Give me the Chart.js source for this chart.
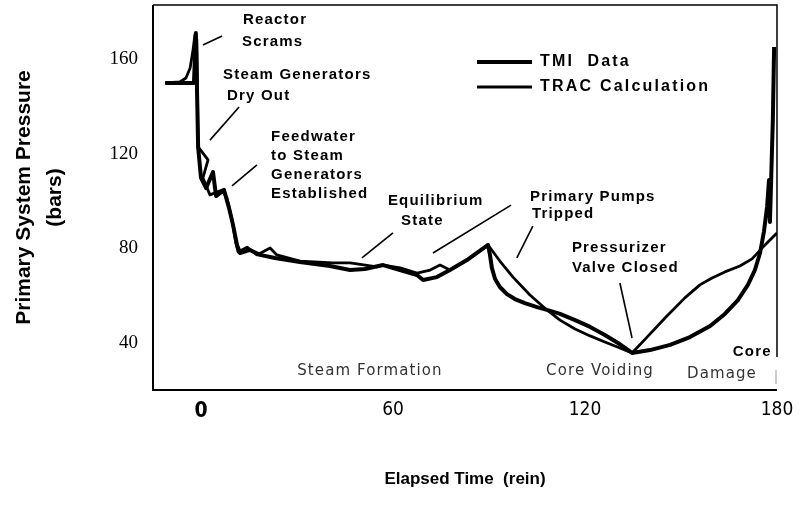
<!DOCTYPE html>
<html>
<head>
<meta charset="utf-8">
<script src="https://cdn.jsdelivr.net/npm/chart.js@4.4.1/dist/chart.umd.min.js"></script>
<style>
  html, body { margin: 0; padding: 0; background: #fff; }
</style>
</head>
<body>
<canvas id="pressureChart" width="800" height="514"></canvas>
<script>
// elapsed time (min) / primary system pressure (bars)
const tmiTime = [-11.2, -2.2, -1.6, -0.9, 0.0, 1.6, 3.75, 4.7, 7.2, 8.75, 10.0, 11.25, 12.2, 15.3, 18.4, 23.1, 30.9, 40.3, 46.6, 51.2, 56.9, 62.2, 67.5, 69.4, 73.7, 77.8, 83.1, 89.7,
  90.3, 90.9, 91.9, 93.4, 95.6, 98.1, 101.2, 105.0, 108.1, 112.2, 116.9, 121.6, 126.2, 130.3, 134.7,
  140.3, 146.6, 152.8, 159.1, 163.7, 167.8, 170.9, 173.1, 174.7, 175.9, 176.9, 177.5, 177.8, 178.7, 179.1];
const tmiPressure = [150.0, 150.0, 171.1, 122.9, 109.8, 105.5, 112.3, 102.1, 104.7, 97.1, 89.9, 81.4, 78.0, 79.3, 77.2, 75.9, 74.2, 72.5, 70.8, 71.2, 72.9, 70.8, 68.7, 66.6, 67.8, 70.8, 75.0, 81.4,
  77.2, 71.7, 67.0, 63.6, 60.6, 58.5, 56.8, 55.1, 53.9, 52.2, 49.6, 46.7, 43.3, 39.9, 35.7,
  36.9, 39.1, 42.4, 47.1, 52.2, 58.1, 64.5, 70.8, 78.0, 86.9, 97.5, 108.9, 91.1, 134.3, 165.2];

const tracTime = [-11.2, -6.6, -4.7, -3.4, -2.5, -1.9, -1.3, -0.9, 2.2, 0.6, 2.8, 6.6, 8.1, 9.7, 10.9, 11.6, 14.4, 17.5, 21.6, 23.7, 30.9, 41.2, 46.6, 55.0, 56.9, 62.2, 67.5, 71.6, 74.7, 77.8, 83.1, 89.7,
  93.4, 97.5, 102.8, 108.1, 112.2, 116.9, 121.6, 126.2, 130.9, 134.7,
  139.4, 145.0, 151.2, 155.9, 159.7, 163.7, 168.4, 172.2, 175.6, 180.0];
const tracPressure = [150.0, 150.4, 152.1, 156.3, 163.9, 170.3, 168.2, 122.9, 117.4, 109.8, 102.6, 104.7, 101.3, 92.0, 82.2, 78.4, 80.5, 77.2, 80.1, 77.2, 74.6, 73.8, 73.8, 72.1, 72.9, 71.7, 69.5, 70.8, 72.9, 70.8, 75.0, 81.4,
  74.6, 67.8, 60.2, 53.9, 49.6, 45.8, 42.9, 40.3, 37.8, 35.7,
  42.4, 50.5, 59.0, 64.5, 67.4, 70.0, 72.5, 75.5, 80.5, 86.5];

const xTicks = [0, 60, 120, 180];
const yTicks = [40, 80, 120, 160];

// event notes (bold) and phase names (plain), in axis units
const notes = [
  {text: 'Reactor', x: 13.1, y: 176.6},
  {text: 'Scrams', x: 12.8, y: 167.3},
  {text: 'Steam Generators', x: 6.9, y: 153.4},
  {text: 'Dry Out', x: 8.1, y: 144.5},
  {text: 'Feedwater', x: 21.9, y: 127.1},
  {text: 'to Steam', x: 21.9, y: 119.1},
  {text: 'Generators', x: 21.9, y: 111.0},
  {text: 'Established', x: 21.9, y: 103.0},
  {text: 'Equilibrium', x: 58.4, y: 100.0},
  {text: 'State', x: 62.5, y: 91.5},
  {text: 'Primary Pumps', x: 102.8, y: 101.7},
  {text: 'Tripped', x: 103.4, y: 94.5},
  {text: 'Pressurizer', x: 115.9, y: 80.1},
  {text: 'Valve Closed', x: 115.9, y: 71.7},
  {text: 'Core', x: 166.2, y: 36.1}
];
const phases = [
  {text: 'Steam Formation', x: 52.8, y: 28.0},
  {text: 'Core Voiding', x: 124.7, y: 28.0},
  {text: 'Damage', x: 162.8, y: 26.8}
];
const leaders = [
  [0.6, 166.1, 6.6, 169.9],
  [2.8, 125.8, 11.9, 139.8],
  [9.7, 106.4, 17.5, 115.3],
  [50.3, 75.9, 60.0, 86.5],
  [72.5, 78.0, 96.9, 98.3],
  [98.7, 75.9, 103.7, 89.4],
  [130.9, 65.3, 134.7, 42.0]
];

const sansBold = "bold 15px 'Liberation Sans', Arial, sans-serif";

const annotate = {
  id: 'annotate',
  afterDatasetsDraw(chart) {
    const {ctx, chartArea: a, scales: {x, y}} = chart;
    ctx.save();
    ctx.strokeStyle = '#000';
    ctx.lineCap = 'butt';

    // frame
    ctx.lineWidth = 2;
    ctx.beginPath();
    ctx.moveTo(a.left, a.top);
    ctx.lineTo(a.left, a.bottom);
    ctx.lineTo(a.right, a.bottom);
    ctx.stroke();
    ctx.lineWidth = 1.5;
    ctx.beginPath();
    ctx.moveTo(a.left, a.top);
    ctx.lineTo(a.right, a.top);
    ctx.lineTo(a.right, a.bottom - 33);
    ctx.stroke();
    ctx.strokeStyle = '#999';
    ctx.lineWidth = 1;
    ctx.beginPath();
    ctx.moveTo(a.right - 1, a.bottom - 20);
    ctx.lineTo(a.right - 1, a.bottom - 6);
    ctx.stroke();

    // leader lines
    ctx.strokeStyle = '#000';
    ctx.lineWidth = 1.6;
    leaders.forEach(l => {
      ctx.beginPath();
      ctx.moveTo(x.getPixelForValue(l[0]), y.getPixelForValue(l[1]));
      ctx.lineTo(x.getPixelForValue(l[2]), y.getPixelForValue(l[3]));
      ctx.stroke();
    });

    ctx.fillStyle = '#000';
    ctx.textBaseline = 'middle';
    ctx.textAlign = 'left';
    ctx.font = sansBold;
    ctx.letterSpacing = '1.2px';
    notes.forEach(n => ctx.fillText(n.text, x.getPixelForValue(n.x), y.getPixelForValue(n.y)));

    ctx.fillStyle = '#333';
    ctx.textAlign = 'center';
    ctx.font = "15px 'DejaVu Sans', Verdana, sans-serif";
    ctx.letterSpacing = '1.1px';
    phases.forEach(n => ctx.fillText(n.text, x.getPixelForValue(n.x), y.getPixelForValue(n.y)));

    // legend
    ctx.textAlign = 'left';
    ctx.fillStyle = '#000';
    ctx.font = "bold 16px 'Liberation Sans', Arial, sans-serif";
    ctx.letterSpacing = '2.2px';
    chart.data.datasets.forEach((ds, i) => {
      const ly = 62 + i * 25;
      ctx.lineWidth = ds.borderWidth;
      ctx.beginPath();
      ctx.moveTo(477, ly);
      ctx.lineTo(532, ly);
      ctx.stroke();
      ctx.fillText(ds.label, 540, ly);
    });
    ctx.restore();
  }
};

function pairs(xs, ys) {
  return xs.map((v, i) => ({x: v, y: ys[i]}));
}

new Chart(document.getElementById('pressureChart'), {
  type: 'line',
  data: {
    datasets: [{
      label: 'TMI  Data',
      data: pairs(tmiTime, tmiPressure),
      borderColor: '#000',
      borderWidth: 4,
      pointRadius: 0,
      tension: 0,
      borderJoinStyle: 'round'
    }, {
      label: 'TRAC Calculation',
      data: pairs(tracTime, tracPressure),
      borderColor: '#000',
      borderWidth: 2.8,
      pointRadius: 0,
      tension: 0,
      borderJoinStyle: 'round'
    }]
  },
  options: {
    responsive: false,
    animation: false,
    devicePixelRatio: 1,
    layout: { padding: { top: 5, right: 23, bottom: 0, left: 0 } },
    plugins: { legend: { display: false }, tooltip: { enabled: false } },
    scales: {
      x: {
        type: 'linear',
        min: -15,
        max: 180,
        afterBuildTicks: s => { s.ticks = xTicks.map(v => ({value: v})); },
        afterFit: s => { s.height = 124; s.paddingLeft = 0; s.paddingRight = 0; },
        grid: { display: false, drawTicks: false },
        border: { display: false },
        ticks: {
          padding: 9,
          color: '#000',
          maxRotation: 0,
          font: c => (c.tick && c.tick.value === 0)
            ? { family: "'Liberation Sans Narrow', 'DejaVu Sans Condensed', 'Liberation Sans'", size: 21, weight: 'bold' }
            : { family: "'Liberation Sans Narrow', 'DejaVu Sans Condensed', 'Liberation Sans'", size: 19 }
        },
        title: {
          display: true,
          text: 'Elapsed Time  (rein)',
          color: '#000',
          font: { family: "'Liberation Sans', Arial, sans-serif", size: 17, weight: 'bold' },
          padding: { bottom: 24 }
        }
      },
      y: {
        min: 20,
        max: 183,
        afterBuildTicks: s => { s.ticks = yTicks.map(v => ({value: v})); },
        afterFit: s => { s.width = 153; s.paddingTop = 0; s.paddingBottom = 0; },
        grid: { display: false, drawTicks: false },
        border: { display: false },
        ticks: {
          padding: 15,
          color: '#000',
          font: { family: "'Liberation Serif', 'Times New Roman', serif", size: 19 }
        },
        title: {
          display: true,
          text: ['Primary System Pressure', '(bars)'],
          color: '#000',
          font: { family: "'Liberation Sans', Arial, sans-serif", size: 21, weight: 'bold', lineHeight: 1.5 },
          padding: { top: 8 }
        }
      }
    }
  },
  plugins: [annotate]
});
</script>
</body>
</html>
